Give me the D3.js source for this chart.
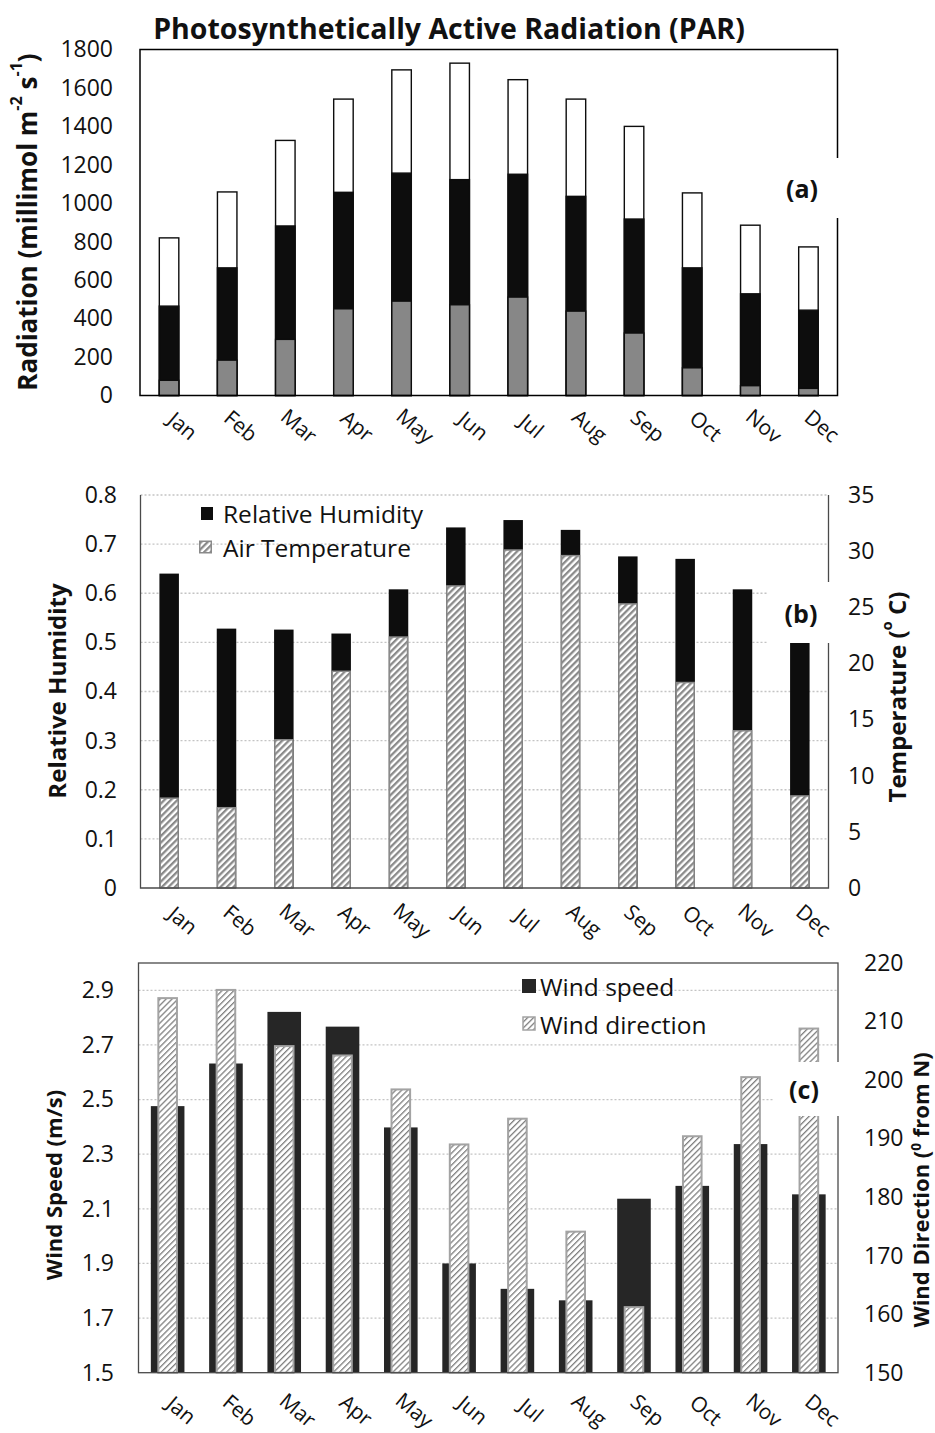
<!DOCTYPE html>
<html><head><meta charset="utf-8">
<script src="https://cdn.jsdelivr.net/npm/d3@7"></script>
<style>
body{margin:0;background:#fff;}
svg{display:block;}
text{font-family:"Open Sans","Noto Sans",sans-serif;fill:#111;}
</style></head><body>
<svg id="chart" width="935" height="1433"></svg>
<script>
// Monthly categories shared by all three panels
const months = ["Jan","Feb","Mar","Apr","May","Jun","Jul","Aug","Sep","Oct","Nov","Dec"];

// (a) PAR levels, millimol m-2 s-1 (overlapping bars, largest behind)
const parUpper  = [820,1059,1327,1542,1694,1729,1643,1542,1400,1054,886,773];
const parMiddle = [465,664,882,1057,1157,1123,1151,1036,918,664,529,444];
const parLower  = [79,184,292,451,491,472,512,439,325,144,51,37];
const parTicks  = [0,200,400,600,800,1000,1200,1400,1600,1800];

// (b) relative humidity (left axis) and air temperature in °C (right axis)
const humidity    = [0.640,0.528,0.526,0.518,0.608,0.734,0.749,0.729,0.675,0.670,0.608,0.570];
const temperature = [8.0,7.15,13.2,19.3,22.35,26.9,30.1,29.6,25.3,18.3,14.0,8.2];
const humidityTicks    = [0,0.1,0.2,0.3,0.4,0.5,0.6,0.7,0.8];
const temperatureTicks = [0,5,10,15,20,25,30,35];

// (c) wind speed in m/s (left axis) and wind direction in degrees from N (right axis)
const windSpeed     = [2.476,2.632,2.821,2.767,2.398,1.90,1.807,1.765,2.137,2.184,2.337,2.153];
const windDirection = [214.0,215.4,205.8,204.2,198.4,189.0,193.4,174.1,161.2,190.4,200.5,208.8];
const speedTicks     = [1.5,1.7,1.9,2.1,2.3,2.5,2.7,2.9];
const directionTicks = [150,160,170,180,190,200,210,220];

const svg = d3.select("#chart");
const defs = svg.append("defs");

function stripePattern(id, size, stripe, color) {
  const p = defs.append("pattern").attr("id", id)
    .attr("patternUnits", "userSpaceOnUse")
    .attr("width", size).attr("height", size)
    .attr("patternTransform", "rotate(45)");
  p.append("rect").attr("width", size).attr("height", size).attr("fill", "#fff");
  p.append("rect").attr("width", stripe).attr("height", size).attr("fill", color);
}
stripePattern("hatchTemp", 4.6, 2.3, "#8a8a8a");
stripePattern("hatchDir", 4.2, 1.3, "#808080");

const tickFont = 23;

function monthLabels(g, x, baseY, dx, dy) {
  g.append("g").selectAll("text").data(months).join("text")
    .attr("transform", d => `translate(${x(d) + x.bandwidth() / 2 + dx},${baseY + dy}) rotate(40)`)
    .attr("text-anchor", "middle")
    .attr("dominant-baseline", "central")
    .attr("font-size", 21)
    .text(d => d);
}

function styleTicks(ax) {
  ax.select(".domain").remove();
  ax.selectAll("text").attr("font-size", tickFont).attr("font-family", "Open Sans").attr("fill", "#111");
}
function leftAxis(g, y, ticks, xPos, fmt) {
  g.append("g").attr("transform", `translate(${xPos},0)`)
    .call(d3.axisLeft(y).tickValues(ticks).tickSize(0).tickPadding(0).tickFormat(fmt))
    .call(styleTicks);
}
function rightAxis(g, y, ticks, xPos, fmt) {
  g.append("g").attr("transform", `translate(${xPos},0)`)
    .call(d3.axisRight(y).tickValues(ticks).tickSize(0).tickPadding(0).tickFormat(fmt))
    .call(styleTicks);
}

function gridLines(g, y, ticks, x0, x1) {
  g.append("g").selectAll("line").data(ticks).join("line")
    .attr("x1", x0).attr("x2", x1)
    .attr("y1", d => y(d)).attr("y2", d => y(d))
    .attr("stroke", "#c4c4c4").attr("stroke-width", 1.3)
    .attr("stroke-dasharray", "2,2");
}

function panelTag(g, label, bx, by, bw, bh) {
  g.append("rect").attr("x", bx).attr("y", by).attr("width", bw).attr("height", bh).attr("fill", "#fff");
  g.append("text").attr("x", bx + bw / 2 - 4).attr("y", by + bh / 2)
    .attr("text-anchor", "middle").attr("dominant-baseline", "central")
    .attr("font-family", "Liberation Serif, Times New Roman, serif")
    .attr("font-weight", "bold").attr("font-size", 25).text(label);
}

function verticalTitle(g, cx, cy, parts, size, shift) {
  const t = g.append("text")
    .attr("transform", `translate(${cx},${cy}) rotate(-90)`)
    .attr("text-anchor", "middle").attr("dominant-baseline", "central")
    .attr("font-weight", "bold").attr("font-size", size);
  parts.forEach(p => {
    const s = t.append("tspan").text(p.t);
    if (p.sup) s.attr("font-size", size * 0.62).attr("baseline-shift", shift || "super");
  });
}

/* ---------- (a) PAR ---------- */
{
  const g = svg.append("g");
  const L = 140, R = 837.5, T = 49.5, B = 395.5;
  const x = d3.scaleBand().domain(months).range([L, R]);
  const y = d3.scaleLinear().domain([0, 1800]).range([B, T]);
  const w = 19.5;
  const series = [
    {v: parUpper,  fill: "#ffffff"},
    {v: parMiddle, fill: "#0d0d0d"},
    {v: parLower,  fill: "#878787"}
  ];
  series.forEach(s => {
    g.append("g").selectAll("rect").data(months).join("rect")
      .attr("x", d => x(d) + x.bandwidth() / 2 - w / 2)
      .attr("width", w)
      .attr("y", (d, i) => y(s.v[i]))
      .attr("height", (d, i) => B - y(s.v[i]))
      .attr("fill", s.fill).attr("stroke", "#0d0d0d").attr("stroke-width", 1.4);
  });
  g.append("rect").attr("x", L).attr("y", T).attr("width", R - L).attr("height", B - T)
    .attr("fill", "none").attr("stroke", "#000").attr("stroke-width", 1.5);
  leftAxis(g, y, parTicks, 113, d3.format("d"));
  monthLabels(g, x, B, 14, 30);
  panelTag(g, "(a)", 770, 158, 72, 60);
  g.append("text").attr("x", 449).attr("y", 28).attr("text-anchor", "middle")
    .attr("dominant-baseline", "central").attr("font-weight", "bold").attr("font-size", 28.5)
    .text("Photosynthetically Active Radiation (PAR)");
  verticalTitle(g, 27, 222, [
    {t: "Radiation (millimol m"}, {t: "-2", sup: true}, {t: " s"}, {t: "-1", sup: true}, {t: ")"}
  ], 26);
}

/* ---------- (b) humidity and temperature ---------- */
{
  const g = svg.append("g");
  const L = 140.5, R = 828.5, T = 495, B = 888;
  const x = d3.scaleBand().domain(months).range([L, R]);
  const y = d3.scaleLinear().domain([0, 0.8]).range([B, T]);
  const y2 = d3.scaleLinear().domain([0, 35]).range([B, T]);
  const w = 19.5;
  gridLines(g, y, humidityTicks.filter(d => d > 0), L, R);
  g.append("g").selectAll("rect").data(months).join("rect")
    .attr("x", d => x(d) + x.bandwidth() / 2 - w / 2).attr("width", w)
    .attr("y", (d, i) => y(humidity[i])).attr("height", (d, i) => B - y(humidity[i]))
    .attr("fill", "#0d0d0d");
  g.append("g").selectAll("rect").data(months).join("rect")
    .attr("x", d => x(d) + x.bandwidth() / 2 - w / 2 + 0.75).attr("width", w - 1.5)
    .attr("y", (d, i) => y2(temperature[i])).attr("height", (d, i) => B - y2(temperature[i]))
    .attr("fill", "url(#hatchTemp)").attr("stroke", "#8a8a8a").attr("stroke-width", 1.5);
  g.append("path").attr("d", `M${L},${T}V${B}H${R}V${T}`)
    .attr("fill", "none").attr("stroke", "#4a4a4a").attr("stroke-width", 1.3);
  leftAxis(g, y, humidityTicks, 117, d => d === 0 ? "0" : d3.format(".1f")(d));
  rightAxis(g, y2, temperatureTicks, 848, d3.format("d"));
  monthLabels(g, x, B, 14, 32);
  // legend
  const lg = g.append("g");
  lg.append("rect").attr("x", 201).attr("y", 507).attr("width", 12).attr("height", 13).attr("fill", "#0d0d0d");
  lg.append("text").attr("x", 223).attr("y", 513).attr("dominant-baseline", "central")
    .attr("font-size", 24.5).text("Relative Humidity");
  lg.append("rect").attr("x", 199.75).attr("y", 541.25).attr("width", 11.5).attr("height", 11.5)
    .attr("fill", "url(#hatchTemp)").attr("stroke", "#8a8a8a").attr("stroke-width", 1.5);
  lg.append("text").attr("x", 223).attr("y", 547).attr("dominant-baseline", "central")
    .attr("font-size", 24.5).text("Air Temperature");
  panelTag(g, "(b)", 768, 582, 74, 61);
  verticalTitle(g, 56, 691, [{t: "Relative Humidity"}], 24);
  verticalTitle(g, 896, 697, [{t: "Temperature ("}, {t: "o", sup: true}, {t: " C)"}], 24);
}

/* ---------- (c) wind ---------- */
{
  const g = svg.append("g");
  const L = 138.5, R = 838, T = 963, B = 1372.7;
  const x = d3.scaleBand().domain(months).range([L, R]);
  const y = d3.scaleLinear().domain([1.5, 3.0]).range([B, T]);
  const y2 = d3.scaleLinear().domain([150, 220]).range([B, T]);
  const wS = 33.6, wD = 18.6;
  gridLines(g, y, speedTicks.filter(d => d > 1.5), L, R);
  g.append("g").selectAll("rect").data(months).join("rect")
    .attr("x", d => x(d) + x.bandwidth() / 2 - wS / 2).attr("width", wS)
    .attr("y", (d, i) => y(windSpeed[i])).attr("height", (d, i) => B - y(windSpeed[i]))
    .attr("fill", "#262626");
  g.append("g").selectAll("rect").data(months).join("rect")
    .attr("x", d => x(d) + x.bandwidth() / 2 - wD / 2).attr("width", wD)
    .attr("y", (d, i) => y2(windDirection[i])).attr("height", (d, i) => B - y2(windDirection[i]))
    .attr("fill", "url(#hatchDir)").attr("stroke", "#a3a3a3").attr("stroke-width", 2);
  g.append("rect").attr("x", L).attr("y", T).attr("width", R - L).attr("height", B - T)
    .attr("fill", "none").attr("stroke", "#4a4a4a").attr("stroke-width", 1.3);
  leftAxis(g, y, speedTicks, 114, d3.format(".1f"));
  rightAxis(g, y2, directionTicks, 864, d3.format("d"));
  monthLabels(g, x, B, 14, 37);
  const lg = g.append("g");
  lg.append("rect").attr("x", 522).attr("y", 979).attr("width", 14).attr("height", 14).attr("fill", "#262626");
  lg.append("text").attr("x", 540).attr("y", 986).attr("dominant-baseline", "central")
    .attr("font-size", 24.5).text("Wind speed");
  lg.append("rect").attr("x", 523).attr("y", 1017).attr("width", 12).attr("height", 13)
    .attr("fill", "url(#hatchDir)").attr("stroke", "#a3a3a3").attr("stroke-width", 1.5);
  lg.append("text").attr("x", 540).attr("y", 1024).attr("dominant-baseline", "central")
    .attr("font-size", 24.5).text("Wind direction");
  panelTag(g, "(c)", 774, 1062, 68, 54);
  verticalTitle(g, 53, 1185, [{t: "Wind Speed (m/s)"}], 22);
  verticalTitle(g, 919.5, 1190, [{t: "Wind Direction ("}, {t: "0", sup: true}, {t: " from N)"}], 22, "35%");
}
</script>
</body></html>
